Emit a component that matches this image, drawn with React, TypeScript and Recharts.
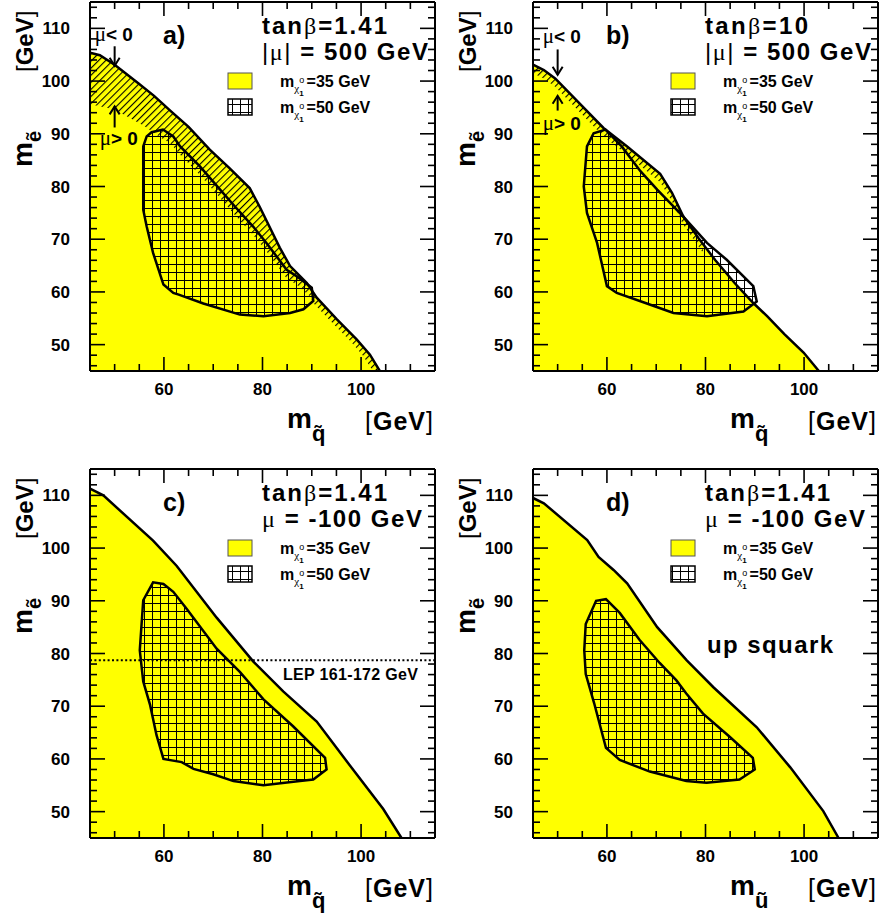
import React from 'react';
import { ComposedChart, Area, Line, XAxis, YAxis, ReferenceLine } from 'recharts';

type Pair = [number, number];
type Arrow3 = [number, number, number]; // x, from y, to y (tip)

const FONT = '"Liberation Sans", Arial, Helvetica, sans-serif';
const SERIF = '"Liberation Serif", "DejaVu Serif", serif';
const YELLOW = '#ffff00';

// axis ticks, GeV
const DOMAIN: [number, number] = [45, 115];
const X_TICKS = [50, 55, 60, 65, 70, 75, 80, 85, 90, 95, 100, 105, 110];
const Y_TICKS = [
  46, 48, 50, 52, 54, 56, 58, 60, 62, 64, 66, 68, 70, 72, 74, 76, 78, 80,
  82, 84, 86, 88, 90, 92, 94, 96, 98, 100, 102, 104, 106, 108, 110, 112, 114,
];

// a) tanb=1.41, |mu|=500
const OUTER_A: Pair[] = [
  [45, 105.4], [47, 104.9], [50, 103.1], [54.8, 99.6], [58, 97.2], [61.5, 94.2], [65, 91.3],
  [69.3, 87], [73.3, 83.5], [77.4, 79.7], [79.4, 76.2], [83.5, 68.4], [85.6, 64.9], [89, 61.7],
  [91, 58.9], [95.1, 54.8], [99.1, 51], [101.8, 48.1], [103.8, 45],
];
const HATCH_A: Pair[] = [
  [45, 105.4], [47, 104.9], [50, 103.1], [54.8, 99.6], [58, 97.2], [61.5, 94.2], [65, 91.3],
  [69.3, 87], [73.3, 83.5], [77.4, 79.7], [79.4, 76.2], [83.5, 68.4], [85.6, 64.9], [89, 61.7],
  [91, 58.9], [95.1, 54.8], [99.1, 51], [101.8, 48.1], [103.8, 45],
  [102.4, 45], [100.4, 47.9], [97.9, 50.6], [94.2, 54.1], [90.4, 57.8],
  [89.6, 59.2], [86.9, 61.4], [84.9, 62.6], [80.8, 67.7], [78.1, 70.8], [74.4, 74.6],
  [71.4, 77.8], [67.3, 82.2], [63.3, 86], [61.3, 88.2], [59.3, 89.3],
  [56, 91.5], [50, 94.6], [45, 95.6],
];
const GRID_A: Pair[] = [
  [55.8, 87.6], [56.5, 89.5], [57.5, 90.3], [59.8, 90.8], [61.9, 89.5], [63.3, 87.6], [67.3, 83.8],
  [71.4, 79.4], [74.4, 76.2], [78.1, 72.4], [80.8, 69.3], [84.9, 64.2], [86.9, 63], [90, 60.8],
  [90.3, 58.3], [88.3, 56.7], [85.6, 56], [80.2, 55.4], [75.4, 55.7], [68, 57.8], [63, 59.5],
  [61.9, 59.8], [59.9, 61.4], [57.8, 67.4], [56.5, 72.4], [55.8, 75.6],
];
const ARROWS_A: Arrow3[] = [[50, 106.6, 102.9], [50, 91.2, 95.2]];

// b) tanb=10, |mu|=500
const OUTER_B: Pair[] = [
  [45, 103.1], [47.2, 102.1], [49.5, 100.5], [59.3, 91.1], [64.1, 87.6], [70.8, 82.4], [73.2, 78.8],
  [75.5, 74.3], [78.6, 70.2], [82, 66], [86, 61.6], [89.7, 57.9], [92.5, 55.4], [96, 52],
  [99.9, 48.5], [103, 45],
];
const HATCH_B: Pair[] = [
  [45, 103.1], [47.2, 102.1], [49.5, 100.5], [59.3, 91.1], [64.1, 87.6], [70.8, 82.4], [73.2, 78.8],
  [75.5, 74.3], [78.6, 70.2], [79.5, 69],
  [79.5, 67.4], [78.6, 68.6], [75.5, 72.7], [73.2, 77.2], [70.8, 80.8], [64.1, 86], [59.3, 89.5],
  [49.5, 98.9], [47.2, 100.5], [45, 101.5],
];
const GRID_B: Pair[] = [
  [55.95, 87.6], [57.3, 90.1], [59.7, 90.8], [63, 87.6], [66.8, 82.9], [70.2, 79.4], [75.5, 74.3],
  [80.3, 69.3], [84.3, 66.1], [89.7, 61.1], [90.4, 58.2], [87.7, 56.3], [80.3, 55.4], [73.5, 56],
  [68.1, 57.8], [62, 59.8], [60, 61.1], [58, 69.3], [55.95, 75], [55.3, 80],
];
const ARROWS_B: Arrow3[] = [[50, 106, 101.2], [50, 94.4, 97.2]];

// c) tanb=1.41, mu=-100
const OUTER_C: Pair[] = [
  [45, 111.3], [47.7, 110], [57.8, 101.4], [62.6, 96.6], [70.7, 86.8], [78.1, 78.5], [84.2, 72.8],
  [91, 67.1], [97.7, 58.8], [104.5, 50.5], [108.2, 45],
];
const GRID_C: Pair[] = [
  [55.8, 90.1], [57.8, 93.5], [59.9, 93.2], [61.9, 91.7], [64.6, 88.5], [70.7, 80.9], [75.4, 76.5],
  [80.2, 71.3], [86.2, 66.2], [92.7, 60.2], [93, 58], [90.3, 56.1], [87.6, 55.8], [80.2, 55],
  [74.1, 55.8], [70, 57.1], [66, 58.1], [63.6, 59.4], [59.9, 60], [58.5, 64.5], [57.2, 70.2],
  [55.8, 74.7], [55.1, 80.6],
];
const LEP_C = 78.7;

// d) up squark, tanb=1.41, mu=-100
const OUTER_D: Pair[] = [
  [45, 109.5], [47.2, 108.5], [56, 101.5], [58.3, 98.3], [61.4, 95.8], [64.1, 93.3], [70.2, 85],
  [76.2, 78.7], [81.6, 73.6], [90.4, 66], [97.2, 58.4], [103.9, 50.1], [107, 45],
];
const GRID_D: Pair[] = [
  [55.7, 85.6], [57.8, 90], [59.8, 90.3], [62.6, 87.7], [66.6, 82.6], [70.7, 78.2], [74.1, 74.9],
  [76.1, 72.4], [79.5, 68.6], [84.9, 64.2], [89.6, 60.2], [90, 58], [86.9, 56.1], [80.2, 55.5],
  [76.1, 55.8], [68.7, 57.6], [62.6, 59.8], [59.8, 62.1], [57.4, 70.6], [55.7, 76.1], [55.4, 80.6],
];

const pts = (a: Pair[]) => a.map(([x, y]) => ({ x, y }));

const tickText = { fontFamily: FONT, fontWeight: 700, fontSize: 17, fill: '#000' };

const BottomTick = (p: any) => {
  const v = p.payload.value;
  const major = v % 20 === 0;
  return (
    <g>
      <line x1={p.x} y1={p.y} x2={p.x} y2={p.y - (major ? 14 : 7)} stroke="#000" strokeWidth={1.6} />
      {major && (
        <text x={p.x} y={p.y + 24} textAnchor="middle" {...tickText}>
          {v}
        </text>
      )}
    </g>
  );
};
const TopTick = (p: any) => {
  const major = p.payload.value % 20 === 0;
  return <line x1={p.x} y1={p.y} x2={p.x} y2={p.y + (major ? 14 : 7)} stroke="#000" strokeWidth={1.6} />;
};
const LeftTick = (p: any) => {
  const v = p.payload.value;
  const major = v % 10 === 0;
  return (
    <g>
      <line x1={p.x} y1={p.y} x2={p.x + (major ? 15 : 7)} y2={p.y} stroke="#000" strokeWidth={1.6} />
      {major && (
        <text x={p.x - 20} y={p.y + 6} textAnchor="end" {...tickText}>
          {v}
        </text>
      )}
    </g>
  );
};
const RightTick = (p: any) => {
  const major = p.payload.value % 10 === 0;
  return <line x1={p.x} y1={p.y} x2={p.x - (major ? 15 : 7)} y2={p.y} stroke="#000" strokeWidth={1.6} />;
};

// arrow drawn by ReferenceLine; its mu label rides along so it sits above the fills
const arrowShape = (label: string, dx: number, dy: number) => (p: any) => {
  const { x1, y1, x2, y2 } = p;
  const dir = y2 > y1 ? 1 : -1;
  return (
    <g>
      <line x1={x1} y1={y1} x2={x2} y2={y2} stroke="#000" strokeWidth={2} />
      <polyline
        points={`${x2 - 5},${y2 - dir * 8} ${x2},${y2} ${x2 + 5},${y2 - dir * 8}`}
        fill="none"
        stroke="#000"
        strokeWidth={2}
      />
      <text x={x1 + dx} y={y1 + dy} fontFamily={FONT} fontWeight={700} fontSize={19} fill="#000">
        <tspan fontFamily={SERIF} fontWeight={400} fontSize={21}>μ</tspan>
        {label}
      </text>
    </g>
  );
};

const Chi = ({ x, y, mass }: { x: number; y: number; mass: number }) => (
  <text x={x} y={y} fontFamily={FONT} fontWeight={700} fontSize={16} fill="#000">
    m
    <tspan dy={5} fontSize={11} fontFamily={SERIF} fontWeight={400}>χ</tspan>
    <tspan dy={-9} dx={0} fontSize={9} fontWeight={400}>o</tspan>
    <tspan dx={-5} dy={13} fontSize={8}>1</tspan>
    <tspan dx={3} dy={-9} fontSize={16}>={mass} GeV</tspan>
  </text>
);

type PanelCfg = {
  id: string;
  left: number;
  top: number;
  width: number;
  plotLeft: number;
  margin: { top: number; right: number; bottom: number; left: number };
  yWidth: number;
  outer: Pair[];
  grid: Pair[];
  hatch?: Pair[];
  arrows?: Arrow3[];
  arrowText?: [number, number][]; // label offsets for the down / up arrow
  lep?: number;
  tag: string;
  tan: string;
  tanLen: number;
  absMu: boolean;
  muText: string;
  muLen: number;
  xSub: string;
  extra?: string;
};

const PANELS: PanelCfg[] = [
  {
    id: 'a', left: 0, top: 0, width: 440, plotLeft: 90,
    margin: { top: 1, right: 4, bottom: 50, left: 30 }, yWidth: 60,
    outer: OUTER_A, grid: GRID_A, hatch: HATCH_A, arrows: ARROWS_A, arrowText: [[-20, -5], [-15, 18]],
    tag: 'a)', tan: '1.41', tanLen: 125, absMu: true, muText: ' = 500 GeV', muLen: 166, xSub: 'q\u0303',
  },
  {
    id: 'b', left: 440, top: 0, width: 439, plotLeft: 93,
    margin: { top: 1, right: 0, bottom: 50, left: 31 }, yWidth: 62,
    outer: OUTER_B, grid: GRID_B, hatch: HATCH_B, arrows: ARROWS_B, arrowText: [[-15, -6], [-15, 19]],
    tag: 'b)', tan: '10', tanLen: 103, absMu: true, muText: ' = 500 GeV', muLen: 166, xSub: 'q\u0303',
  },
  {
    id: 'c', left: 0, top: 467, width: 440, plotLeft: 90,
    margin: { top: 1, right: 4, bottom: 50, left: 30 }, yWidth: 60,
    outer: OUTER_C, grid: GRID_C, lep: LEP_C,
    tag: 'c)', tan: '1.41', tanLen: 125, absMu: false, muText: ' = -100 GeV', muLen: 160, xSub: 'q\u0303',
  },
  {
    id: 'd', left: 440, top: 467, width: 439, plotLeft: 93,
    margin: { top: 1, right: 0, bottom: 50, left: 31 }, yWidth: 62,
    outer: OUTER_D, grid: GRID_D,
    tag: 'd)', tan: '1.41', tanLen: 125, absMu: false, muText: ' = -100 GeV', muLen: 160, xSub: '\u0169',
    extra: 'up squark',
  },
];

function Panel({ c }: { c: PanelCfg }) {
  const pl = c.plotLeft;
  const bold = { fontFamily: FONT, fontWeight: 700, fill: '#000' };
  const axisLine = { stroke: '#000', strokeWidth: 2 };
  return (
    <div style={{ position: 'absolute', left: c.left, top: c.top }}>
      <ComposedChart width={c.width} height={451} margin={c.margin}>
        <defs>
          <pattern id={`grid-${c.id}`} width={8} height={8} patternUnits="userSpaceOnUse">
            <path d="M0 0.5H8M0.5 0V8" stroke="#000" strokeWidth={1} fill="none" />
          </pattern>
          <pattern
            id={`hatch-${c.id}`}
            width={5}
            height={5}
            patternUnits="userSpaceOnUse"
            patternTransform="rotate(-45)"
          >
            <rect x={0} y={2} width={5} height={1.1} fill="#000" />
          </pattern>
        </defs>

        <Area
          data={pts(c.outer)}
          dataKey="y"
          type="linear"
          baseValue={45}
          fill={YELLOW}
          fillOpacity={1}
          stroke="none"
          isAnimationActive={false}
        />
        {c.hatch && (
          <Area
            data={pts(c.hatch)}
            dataKey="y"
            type="linearClosed"
            baseValue={45}
            fill={`url(#hatch-${c.id})`}
            fillOpacity={1}
            stroke="none"
            isAnimationActive={false}
          />
        )}
        <Area
          data={pts(c.grid)}
          dataKey="y"
          type="linearClosed"
          baseValue={45}
          fill={`url(#grid-${c.id})`}
          fillOpacity={1}
          stroke="#000"
          strokeWidth={2.5}
          isAnimationActive={false}
        />
        <Line
          data={pts(c.outer)}
          dataKey="y"
          type="linear"
          stroke="#000"
          strokeWidth={2.5}
          dot={false}
          isAnimationActive={false}
        />
        {c.arrows &&
          c.arrows.map(([x, y0, y1], i) => {
            const [dx, dy] = c.arrowText ? c.arrowText[i] : [0, 0];
            return (
              <ReferenceLine
                key={i}
                segment={[{ x, y: y0 }, { x, y: y1 }]}
                shape={arrowShape(i === 0 ? '< 0' : '> 0', dx, dy)}
                ifOverflow="visible"
              />
            );
          })}
        {c.lep !== undefined && (
          <ReferenceLine
            y={c.lep}
            stroke="#000"
            strokeWidth={2}
            strokeDasharray="2 2.4"
            label={(p: any) => (
              <text
                x={p.viewBox.x + p.viewBox.width - 17}
                y={p.viewBox.y + 20}
                textAnchor="end"
                fontSize={16}
                textLength={135}
                {...bold}
              >
                LEP 161-172 GeV
              </text>
            )}
          />
        )}

        <XAxis
          dataKey="x"
          type="number"
          domain={DOMAIN}
          allowDataOverflow
          ticks={X_TICKS}
          interval={0}
          height={30}
          tickSize={0}
          tickMargin={0}
          tickLine={false}
          axisLine={axisLine}
          tick={BottomTick}
        />
        <XAxis
          xAxisId="top"
          orientation="top"
          dataKey="x"
          type="number"
          domain={DOMAIN}
          allowDataOverflow
          ticks={X_TICKS}
          interval={0}
          height={1}
          tickSize={0}
          tickMargin={0}
          tickLine={false}
          axisLine={axisLine}
          tick={TopTick}
        />
        <YAxis
          type="number"
          domain={DOMAIN}
          allowDataOverflow
          ticks={Y_TICKS}
          interval={0}
          width={c.yWidth}
          tickSize={0}
          tickMargin={0}
          tickLine={false}
          axisLine={axisLine}
          tick={LeftTick}
        />
        <YAxis
          yAxisId="right"
          orientation="right"
          type="number"
          domain={DOMAIN}
          allowDataOverflow
          ticks={Y_TICKS}
          interval={0}
          width={1}
          tickSize={0}
          tickMargin={0}
          tickLine={false}
          axisLine={axisLine}
          tick={RightTick}
        />

        {/* panel tag and parameters */}
        <text x={pl + 73} y={44} fontSize={25} {...bold}>{c.tag}</text>
        <text x={pl + 172} y={34} fontSize={24} textLength={c.tanLen} lengthAdjust="spacing" {...bold}>
          tan<tspan fontFamily={SERIF} fontWeight={400}>β</tspan>={c.tan}
        </text>
        <text x={pl + 172} y={60} fontSize={24} textLength={c.muLen} lengthAdjust="spacing" {...bold}>
          {c.absMu ? (
            <>
              <tspan fontWeight={400}>|</tspan>
              <tspan fontFamily={SERIF} fontWeight={400}>μ</tspan>
              <tspan fontWeight={400}>|</tspan>
            </>
          ) : (
            <tspan fontFamily={SERIF} fontWeight={400}>μ</tspan>
          )}
          {c.muText}
        </text>

        {/* legend */}
        <rect x={pl + 138} y={73} width={24} height={16} fill={YELLOW} stroke="#555" strokeWidth={1} />
        <rect x={pl + 138} y={99} width={24} height={16} fill={`url(#grid-${c.id})`} stroke="#000" strokeWidth={1.5} />
        <Chi x={pl + 190} y={87} mass={35} />
        <Chi x={pl + 190} y={113} mass={50} />

        {c.extra && (
          <text x={pl + 174} y={186} fontSize={24} textLength={126} lengthAdjust="spacing" {...bold}>
            {c.extra}
          </text>
        )}

        {/* axis titles */}
        <text x={pl + 197} y={428} fontSize={28} {...bold}>
          m<tspan dy={13} fontSize={22}>{c.xSub}</tspan>
        </text>
        <text x={pl + 275} y={430} fontSize={25} textLength={68} lengthAdjust="spacing" {...bold}>
          <tspan fontWeight={400}>[</tspan>GeV<tspan fontWeight={400}>]</tspan>
        </text>
        <text transform={`rotate(-90 ${pl - 58} 167)`} x={pl - 58} y={167} fontSize={28} {...bold}>
          m<tspan dy={9} fontSize={20}>ẽ</tspan>
        </text>
        <text transform={`rotate(-90 ${pl - 57} 72)`} x={pl - 57} y={72} fontSize={24} {...bold}>
          <tspan fontWeight={400}>[</tspan>GeV<tspan fontWeight={400}>]</tspan>
        </text>
      </ComposedChart>
    </div>
  );
}

export default function App() {
  return (
    <div style={{ position: 'absolute', left: 0, top: 0, width: 879, height: 918, background: '#fff' }}>
      {PANELS.map((c) => (
        <Panel key={c.id} c={c} />
      ))}
    </div>
  );
}
